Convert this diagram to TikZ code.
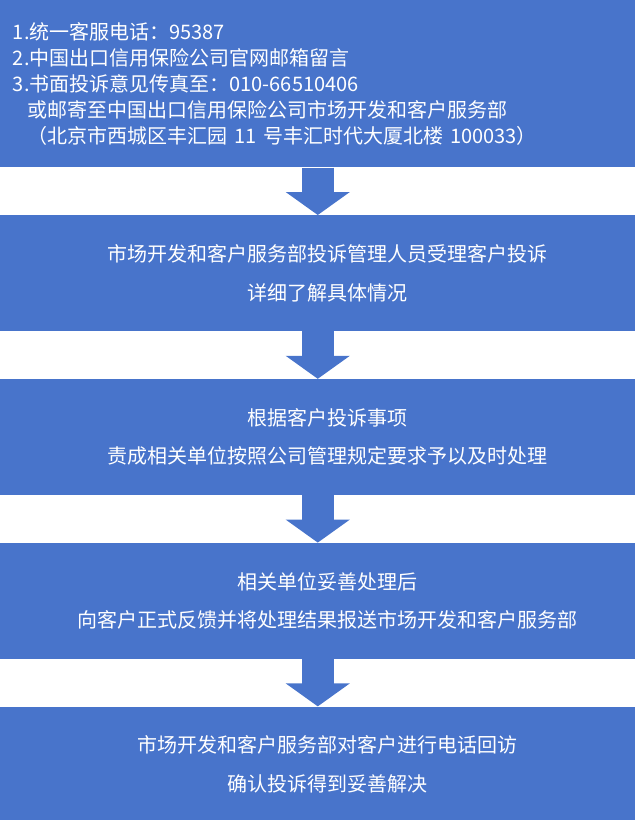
\documentclass[tikz,border=0pt]{standalone}
\usepackage{fontspec}
\newfontfamily\cjk{Noto Sans CJK SC}
\usepackage{xcolor}
\usepackage{tikz}
\usetikzlibrary{positioning,arrows.meta}
\definecolor{boxblue}{RGB}{72,116,203}
\tikzstyle{flowbox} = [fill=boxblue, rectangle, inner sep=0pt, minimum height=86.8125pt, minimum width=476.25pt]
\tikzstyle{boxtext} = [text=white, inner sep=0pt, xshift=7pt, align=center, font=\cjk\fontsize{15pt}{29pt}\selectfont]
\tikzstyle{contactbox} = [flowbox, text=white, minimum height=125.25pt, inner xsep=9.5pt, text width=457.25pt, align=left, font=\cjk\fontsize{15pt}{19.5pt}\selectfont]
\tikzset{flowarrow/.style={draw=boxblue, line width=24pt, -{Triangle[width=47.25pt, length=17.25pt]}}}

\begin{document}
\begin{tikzpicture}[node distance=35.625pt]
		\useasboundingbox (0,0) rectangle (476.25pt,-615pt);
		\node [contactbox, anchor=north west] (contact) at (0,0) {1.统一客服电话：95387\\2.中国出口信用保险公司官网邮箱留言\\3.书面投诉意见传真至：010-66510406\\\hspace*{11.25pt}或邮寄至中国出口信用保险公司市场开发和客户服务部\\\hspace*{11.25pt}（北京市西城区丰汇园 11 号丰汇时代大厦北楼 100033）};
		
		\node [flowbox, below=of contact, label={[boxtext]center:市场开发和客户服务部投诉管理人员受理客户投诉\\详细了解具体情况}] (accept) {};
		\node [flowbox, below=of accept, label={[boxtext]center:根据客户投诉事项\\责成相关单位按照公司管理规定要求予以及时处理}] (assign) {};
		\node [flowbox, below=of assign, label={[boxtext]center:相关单位妥善处理后\\向客户正式反馈并将处理结果报送市场开发和客户服务部}] (handle) {};
		\node [flowbox, below=of handle, label={[boxtext]center:市场开发和客户服务部对客户进行电话回访\\确认投诉得到妥善解决}] (revisit) {};
		
		\draw [flowarrow] (contact.south) -- (accept.north);
		\draw [flowarrow] (accept.south) -- (assign.north);
		\draw [flowarrow] (assign.south) -- (handle.north);
		\draw [flowarrow] (handle.south) -- (revisit.north);
	\end{tikzpicture}
\end{document}
